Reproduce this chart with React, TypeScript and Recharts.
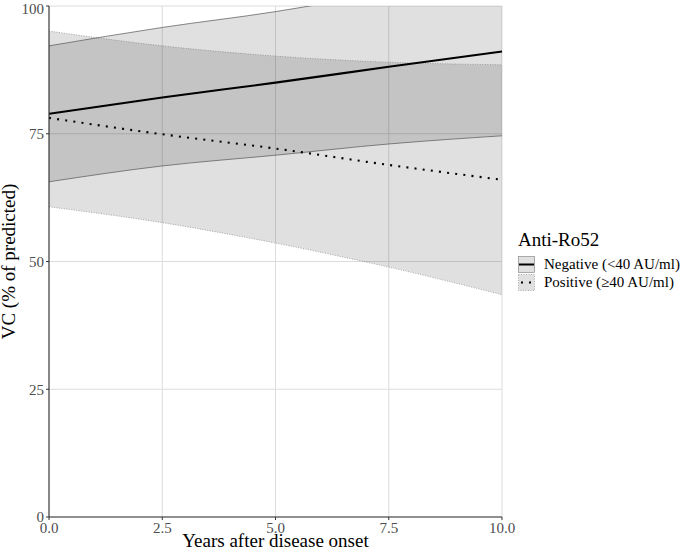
import React from 'react';
import {
  CartesianGrid,
  ComposedChart,
  Area,
  Line,
  XAxis,
  YAxis,
} from 'recharts';

// values at the x grid lines
const years = [0, 2.5, 5, 7.5, 10];
const negFit = [78.9, 82.1, 85.0, 88.1, 91.1];
const negLower = [65.6, 68.7, 70.8, 73.0, 74.6];
const negUpper = [92.2, 95.8, 98.9, 102.8, 107.2];
const posFit = [78.1, 74.9, 72.1, 68.9, 66.0];
const posLower = [60.7, 57.6, 53.6, 48.9, 43.5];
const posUpper = [95.1, 92.2, 90.2, 89.0, 88.5];

const xTicks = [0, 2.5, 5, 7.5, 10];
const yTicks = [0, 25, 50, 75, 100];
const legendTitle = 'Anti-Ro52';
const legendLabels = ['Negative (<40 AU/ml)', 'Positive (\u226540 AU/ml)'];

const data = years.map((t, i) => ({
  t,
  negFit: negFit[i],
  negLower: negLower[i],
  negUpper: negUpper[i],
  negBand: [negLower[i], negUpper[i]],
  posFit: posFit[i],
  posLower: posLower[i],
  posUpper: posUpper[i],
  posBand: [posLower[i], posUpper[i]],
}));

const FONT = '"Liberation Serif", "Times New Roman", serif';

function Tick(props: any) {
  const { x, y, payload, textAnchor, fmt } = props;
  const isX = textAnchor === 'middle';
  return (
    <text
      x={x}
      y={y}
      dy={isX ? '0.71em' : '0.355em'}
      textAnchor={textAnchor}
      fontFamily={FONT}
      fontSize={15}
      fill="#4d4d4d"
    >
      {fmt ? fmt(payload.value) : payload.value}
    </text>
  );
}

function YTitle(props: any) {
  const vb = props.viewBox || { x: 0, y: 0, height: 0 };
  const cx = 15;
  const cy = vb.y + vb.height / 2;
  return (
    <text
      x={cx}
      y={cy}
      transform={`rotate(-90 ${cx} ${cy})`}
      textAnchor="middle"
      fontFamily={FONT}
      fontSize={19}
      fill="#000"
    >
      VC (% of predicted)
    </text>
  );
}

function XTitle(props: any) {
  const vb = props.viewBox || { x: 0, y: 0, width: 0, height: 0 };
  return (
    <text
      x={vb.x + vb.width / 2}
      y={vb.y + vb.height - 5}
      textAnchor="middle"
      fontFamily={FONT}
      fontSize={19}
      fill="#000"
    >
      Years after disease onset
    </text>
  );
}

function KeyBox({ dotted }: { dotted: boolean }) {
  return (
    <svg width={17} height={17} style={{ display: 'block' }}>
      <rect
        x={0.5}
        y={0.5}
        width={16}
        height={16}
        fill="#e0e0e0"
        stroke="#7a7a7a"
        strokeWidth={0.6}
        strokeDasharray={dotted ? '1 1.5' : undefined}
      />
      <line
        x1={1}
        x2={16}
        y1={8.5}
        y2={8.5}
        stroke="#000"
        strokeWidth={2}
        strokeDasharray={dotted ? '2 6' : undefined}
        strokeDashoffset={dotted ? -2 : 0}
      />
    </svg>
  );
}

export default function App() {
  return (
    <div
      style={{
        position: 'absolute',
        left: 0,
        top: 0,
        width: 685,
        height: 552,
        background: '#fff',
        fontFamily: FONT,
      }}
    >
      <ComposedChart
        width={685}
        height={552}
        data={data}
        margin={{ top: 6, right: 183, bottom: 0, left: 0 }}
        style={{ fontFamily: FONT }}
      >
        <CartesianGrid stroke="#dcdcdc" strokeWidth={1} />
        <XAxis
          dataKey="t"
          type="number"
          domain={[0, 10]}
          ticks={xTicks}
          height={35}
          tickSize={3}
          tickMargin={2}
          tick={<Tick fmt={(v: number) => v.toFixed(1)} />}
          axisLine={{ stroke: '#333', strokeWidth: 1.1 }}
          tickLine={{ stroke: '#333' }}
          label={{ content: XTitle }}
        />
        <YAxis
          type="number"
          domain={[0, 100]}
          ticks={yTicks}
          allowDataOverflow
          width={49}
          tickSize={3}
          tickMargin={2}
          tick={<Tick />}
          axisLine={{ stroke: '#333', strokeWidth: 1.1 }}
          tickLine={{ stroke: '#333' }}
          label={{ content: YTitle }}
        />
        <Area
          type="monotone"
          dataKey="posBand"
          fill="#000"
          fillOpacity={0.12}
          stroke="none"
          isAnimationActive={false}
          activeDot={false}
        />
        <Area
          type="monotone"
          dataKey="negBand"
          fill="#000"
          fillOpacity={0.12}
          stroke="none"
          isAnimationActive={false}
          activeDot={false}
        />
        <Line type="monotone" dataKey="posUpper" stroke="#777" strokeWidth={0.6} strokeDasharray="1 1.5" dot={false} activeDot={false} isAnimationActive={false} />
        <Line type="monotone" dataKey="posLower" stroke="#777" strokeWidth={0.6} strokeDasharray="1 1.5" dot={false} activeDot={false} isAnimationActive={false} />
        <Line type="monotone" dataKey="negUpper" stroke="#555" strokeWidth={0.7} dot={false} activeDot={false} isAnimationActive={false} />
        <Line type="monotone" dataKey="negLower" stroke="#555" strokeWidth={0.7} dot={false} activeDot={false} isAnimationActive={false} />
        <Line type="monotone" dataKey="negFit" stroke="#000" strokeWidth={2.1} dot={false} activeDot={false} isAnimationActive={false} />
        <Line type="monotone" dataKey="posFit" stroke="#000" strokeWidth={2.1} strokeDasharray="2 6.2" dot={false} activeDot={false} isAnimationActive={false} />
      </ComposedChart>
      <div style={{ position: 'absolute', left: 518, top: 228, color: '#000' }}>
        <div style={{ fontSize: 19, lineHeight: '24px', marginBottom: 4 }}>{legendTitle}</div>
        {legendLabels.map((label, i) => (
          <div key={label} style={{ display: 'flex', alignItems: 'center', height: 17, marginBottom: 1 }}>
            <KeyBox dotted={i === 1} />
            <span style={{ fontSize: 15, marginLeft: 9, whiteSpace: 'nowrap', lineHeight: '17px' }}>{label}</span>
          </div>
        ))}
      </div>
    </div>
  );
}
